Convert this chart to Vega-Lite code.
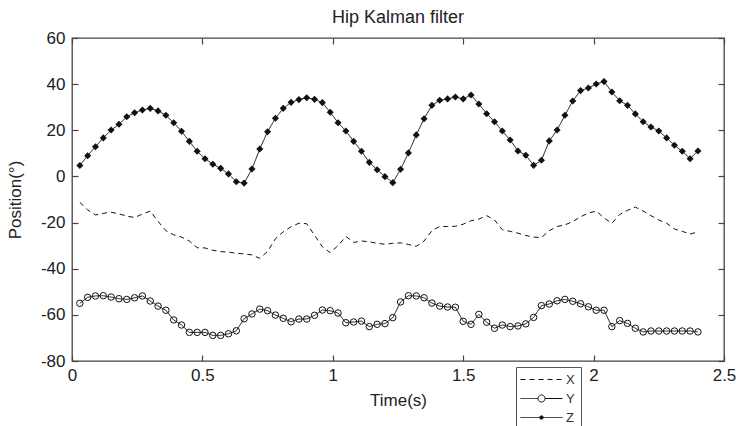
{
  "$schema": "https://vega.github.io/schema/vega-lite/v6.json",
  "width": 652,
  "height": 323,
  "autosize": {"type": "none"},
  "padding": {"left": 72, "top": 38, "right": 12, "bottom": 65},
  "background": "white",
  "title": {"text": "Hip Kalman filter", "fontSize": 18, "font": "Liberation Sans", "fontWeight": "normal", "color": "#222", "anchor": "middle", "baseline": "alphabetic", "offset": 14, "dy": 26},
  "data": {"values": [
    {"t":0.03,"X":-11.2,"Y":-55.0,"Z":4.7},
    {"t":0.06,"X":-14.5,"Y":-52.4,"Z":9.0},
    {"t":0.09,"X":-16.7,"Y":-51.8,"Z":12.9},
    {"t":0.12,"X":-16.0,"Y":-51.7,"Z":16.7},
    {"t":0.15,"X":-15.5,"Y":-52.3,"Z":20.1},
    {"t":0.18,"X":-16.2,"Y":-53.0,"Z":22.6},
    {"t":0.21,"X":-17.2,"Y":-53.3,"Z":25.9},
    {"t":0.24,"X":-17.8,"Y":-52.6,"Z":27.6},
    {"t":0.27,"X":-16.3,"Y":-51.8,"Z":28.8},
    {"t":0.30,"X":-15.0,"Y":-54.0,"Z":29.5},
    {"t":0.33,"X":-19.5,"Y":-56.2,"Z":28.4},
    {"t":0.36,"X":-23.5,"Y":-58.0,"Z":26.5},
    {"t":0.39,"X":-25.3,"Y":-62.2,"Z":23.3},
    {"t":0.42,"X":-26.3,"Y":-64.4,"Z":19.6},
    {"t":0.45,"X":-28.0,"Y":-67.6,"Z":15.2},
    {"t":0.48,"X":-30.9,"Y":-67.6,"Z":10.9},
    {"t":0.51,"X":-31.0,"Y":-67.6,"Z":7.7},
    {"t":0.54,"X":-32.0,"Y":-68.9,"Z":5.3},
    {"t":0.57,"X":-32.6,"Y":-68.9,"Z":3.5},
    {"t":0.60,"X":-32.8,"Y":-68.2,"Z":1.1},
    {"t":0.63,"X":-33.3,"Y":-66.9,"Z":-2.3},
    {"t":0.66,"X":-33.6,"Y":-61.7,"Z":-2.9},
    {"t":0.69,"X":-34.0,"Y":-59.6,"Z":3.2},
    {"t":0.72,"X":-35.5,"Y":-57.5,"Z":11.9},
    {"t":0.75,"X":-32.5,"Y":-58.2,"Z":19.4},
    {"t":0.78,"X":-27.0,"Y":-60.1,"Z":25.2},
    {"t":0.81,"X":-24.0,"Y":-61.5,"Z":29.5},
    {"t":0.84,"X":-21.8,"Y":-63.0,"Z":32.1},
    {"t":0.87,"X":-20.3,"Y":-61.8,"Z":33.3},
    {"t":0.90,"X":-20.5,"Y":-61.8,"Z":34.1},
    {"t":0.93,"X":-25.5,"Y":-60.2,"Z":33.4},
    {"t":0.96,"X":-30.5,"Y":-57.9,"Z":32.0},
    {"t":0.99,"X":-33.0,"Y":-58.2,"Z":27.8},
    {"t":1.02,"X":-30.0,"Y":-59.2,"Z":23.3},
    {"t":1.05,"X":-26.0,"Y":-63.4,"Z":19.7},
    {"t":1.08,"X":-28.6,"Y":-63.1,"Z":15.2},
    {"t":1.11,"X":-28.0,"Y":-62.7,"Z":10.9},
    {"t":1.14,"X":-28.3,"Y":-65.1,"Z":6.1},
    {"t":1.17,"X":-29.0,"Y":-64.1,"Z":2.9},
    {"t":1.20,"X":-29.4,"Y":-63.8,"Z":-0.1},
    {"t":1.23,"X":-29.0,"Y":-61.2,"Z":-2.7},
    {"t":1.26,"X":-28.8,"Y":-54.4,"Z":3.1},
    {"t":1.29,"X":-29.5,"Y":-51.7,"Z":10.2},
    {"t":1.32,"X":-30.3,"Y":-51.8,"Z":18.0},
    {"t":1.35,"X":-28.0,"Y":-52.6,"Z":25.0},
    {"t":1.38,"X":-23.5,"Y":-54.9,"Z":30.8},
    {"t":1.41,"X":-21.7,"Y":-56.2,"Z":33.0},
    {"t":1.44,"X":-21.7,"Y":-56.6,"Z":33.6},
    {"t":1.47,"X":-21.6,"Y":-56.7,"Z":34.4},
    {"t":1.50,"X":-20.7,"Y":-62.8,"Z":33.6},
    {"t":1.53,"X":-19.2,"Y":-64.1,"Z":35.3},
    {"t":1.56,"X":-18.5,"Y":-59.8,"Z":31.4},
    {"t":1.59,"X":-17.0,"Y":-63.2,"Z":27.2},
    {"t":1.62,"X":-18.9,"Y":-65.8,"Z":23.7},
    {"t":1.65,"X":-23.1,"Y":-64.4,"Z":19.7},
    {"t":1.68,"X":-23.8,"Y":-65.1,"Z":15.8},
    {"t":1.71,"X":-24.6,"Y":-64.8,"Z":11.0},
    {"t":1.74,"X":-25.6,"Y":-63.9,"Z":9.2},
    {"t":1.77,"X":-26.3,"Y":-61.1,"Z":4.8},
    {"t":1.80,"X":-26.5,"Y":-56.0,"Z":7.0},
    {"t":1.83,"X":-23.5,"Y":-55.3,"Z":15.4},
    {"t":1.86,"X":-21.7,"Y":-53.9,"Z":20.1},
    {"t":1.89,"X":-21.0,"Y":-53.3,"Z":26.5},
    {"t":1.92,"X":-19.6,"Y":-54.1,"Z":32.7},
    {"t":1.95,"X":-17.5,"Y":-55.2,"Z":37.2},
    {"t":1.98,"X":-15.9,"Y":-56.5,"Z":38.3},
    {"t":2.01,"X":-15.0,"Y":-58.0,"Z":40.1},
    {"t":2.04,"X":-18.0,"Y":-58.0,"Z":41.1},
    {"t":2.07,"X":-20.3,"Y":-65.1,"Z":36.6},
    {"t":2.10,"X":-16.5,"Y":-62.5,"Z":32.8},
    {"t":2.13,"X":-14.7,"Y":-63.7,"Z":30.8},
    {"t":2.16,"X":-13.3,"Y":-65.8,"Z":27.1},
    {"t":2.19,"X":-15.0,"Y":-67.4,"Z":23.7},
    {"t":2.22,"X":-17.0,"Y":-67.0,"Z":21.4},
    {"t":2.25,"X":-18.9,"Y":-67.0,"Z":19.7},
    {"t":2.28,"X":-20.3,"Y":-67.0,"Z":16.7},
    {"t":2.31,"X":-22.8,"Y":-67.0,"Z":13.5},
    {"t":2.34,"X":-23.8,"Y":-67.0,"Z":10.9},
    {"t":2.37,"X":-25.0,"Y":-67.0,"Z":7.7},
    {"t":2.40,"X":-24.0,"Y":-67.4,"Z":11.0}
  ]},
  "transform": [{"fold": ["X", "Y", "Z"], "as": ["s", "v"]}],
  "layer": [
    {
      "mark": {"type": "line", "strokeWidth": 1, "color": "#111"},
      "encoding": {
        "x": {"field": "t", "type": "quantitative", "scale": {"domain": [0, 2.5], "nice": false, "zero": false},
              "axis": {"orient": "bottom", "values": [0, 0.5, 1, 1.5, 2, 2.5], "title": "Time(s)", "labelExpr": "'' + datum.value", "tickSize": -6, "labelPadding": 12, "titlePadding": 9}},
        "y": {"field": "v", "type": "quantitative", "scale": {"domain": [-80, 60], "nice": false},
              "axis": {"orient": "left", "values": [-80, -60, -40, -20, 0, 20, 40, 60], "title": "Position(°)", "labelExpr": "'' + datum.value", "tickSize": -6, "labelPadding": 13, "titlePadding": 16}},
        "strokeDash": {"field": "s", "type": "nominal",
              "scale": {"domain": ["X", "Y", "Z"], "range": [[5, 4], [1, 0], [1, 0]]},
              "legend": {
                "orient": "none", "legendX": 444, "legendY": 329, "title": null,
                "padding": 6, "strokeColor": "#555", "fillColor": "white",
                "symbolSize": 100, "symbolOffset": 13, "labelOffset": 18,
                "labelFontSize": 13, "labelFont": "Liberation Sans", "labelColor": "#333",
                "rowPadding": 5, "symbolStrokeWidth": 1, "symbolStrokeColor": "#111",
                "encode": {"symbols": {"update": {
                  "shape": {"signal": "datum.value === 'X' ? 'M-4.2,0H4.2' : datum.value === 'Y' ? 'M-4.2,0H-0.7M0.7,0H4.2M-0.7,0A0.7,0.7,0,1,0,0.7,0A0.7,0.7,0,1,0,-0.7,0' : 'M-4.2,0H4.2M-0.35,0A0.35,0.35,0,1,0,0.35,0A0.35,0.35,0,1,0,-0.35,0'"},
                  "strokeDash": {"signal": "datum.value === 'X' ? [2.5, 2.5] : [1, 0]"},
                  "fill": {"signal": "datum.value === 'Z' ? '#111' : 'transparent'"},
                  "stroke": {"value": "#111"}
                }}}
              }}
      }
    },
    {
      "transform": [{"filter": "datum.s === 'Y'"}],
      "mark": {"type": "point", "shape": "circle", "filled": false, "size": 42, "stroke": "#111", "strokeWidth": 1, "opacity": 1},
      "encoding": {
        "x": {"field": "t", "type": "quantitative",
              "axis": {"orient": "top", "values": [0, 0.5, 1, 1.5, 2, 2.5], "labels": false, "title": null, "tickSize": -6}},
        "y": {"field": "v", "type": "quantitative",
              "axis": {"orient": "right", "values": [-80, -60, -40, -20, 0, 20, 40, 60], "labels": false, "title": null, "tickSize": -6}}
      }
    },
    {
      "transform": [{"filter": "datum.s === 'Z'"}],
      "mark": {"type": "point", "shape": "diamond", "filled": true, "size": 50, "color": "#111", "opacity": 1},
      "encoding": {
        "x": {"field": "t", "type": "quantitative", "axis": null},
        "y": {"field": "v", "type": "quantitative", "axis": null}
      }
    }
  ],
  "resolve": {"axis": {"x": "independent", "y": "independent"}},
  "config": {
    "view": {"stroke": "#444", "strokeWidth": 1.3},
    "font": "Liberation Sans",
    "axis": {
      "domain": false, "grid": false, "labelFlush": false, "labelOverlap": false,
      "labelFont": "Liberation Sans", "labelFontSize": 17, "labelColor": "#222",
      "titleFont": "Liberation Sans", "titleFontSize": 17, "titleFontWeight": "normal", "titleColor": "#222",
      "tickColor": "#444", "tickWidth": 1.2
    }
  }
}
